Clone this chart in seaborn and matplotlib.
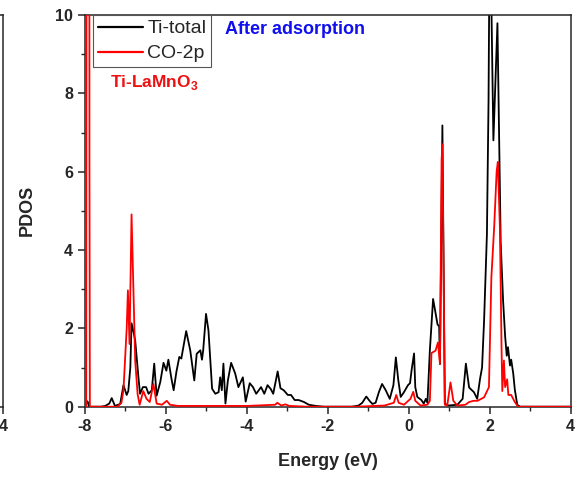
import numpy as np
import pandas as pd
import matplotlib
matplotlib.use("Agg")
import matplotlib.pyplot as plt
import seaborn as sns

# ---------------- data ----------------
ti_energy = [-8.00, -7.98, -7.96, -7.93, -7.90, -7.60, -7.50, -7.40, -7.34, -7.26,
             -7.13, -7.05, -6.97, -6.93, -6.88, -6.85, -6.80, -6.76, -6.68, -6.64,
             -6.57, -6.49, -6.43, -6.35, -6.29, -6.23, -6.14, -6.06, -5.99, -5.94,
             -5.87, -5.81, -5.74, -5.67, -5.62, -5.50, -5.40, -5.30, -5.24, -5.15,
             -5.11, -5.08, -5.01, -4.95, -4.86, -4.78, -4.70, -4.66, -4.62, -4.58,
             -4.53, -4.47, -4.39, -4.29, -4.21, -4.10, -4.03, -3.93, -3.85, -3.77,
             -3.65, -3.57, -3.49, -3.41, -3.35, -3.24, -3.17, -3.09, -2.99, -2.91,
             -2.82, -2.72, -2.59, -2.47, -2.30, -2.10, -1.40, -1.24, -1.15, -1.05,
             -0.97, -0.90, -0.82, -0.74, -0.66, -0.57, -0.47, -0.38, -0.32, -0.26,
             -0.20, -0.12, -0.02, 0.03, 0.07, 0.13, 0.16, 0.21, 0.31, 0.37,
             0.42, 0.46, 0.52, 0.60, 0.65, 0.71, 0.75, 0.77, 0.83, 0.89,
             0.97, 1.20, 1.33, 1.41, 1.49, 1.61, 1.69, 1.76, 1.81, 1.86,
             1.93, 1.97, 1.99, 2.03, 2.09, 2.19, 2.27, 2.33, 2.38, 2.42,
             2.45, 2.50, 2.53, 2.58, 2.62, 2.68, 2.75, 4.00]
ti_pdos = [0.0, 0.0, 0.15, 0.12, 0.0, 0.0, 0.02, 0.08, 0.22, 0.02,
           0.07, 0.55, 0.30, 0.40, 1.00, 2.13, 1.90, 1.69, 0.75, 0.33,
           0.50, 0.50, 0.33, 0.42, 1.10, 0.28, 0.63, 1.12, 0.92, 1.20,
           0.75, 0.42, 0.90, 1.27, 1.23, 1.93, 1.44, 0.67, 1.35, 1.44,
           1.20, 1.44, 2.37, 1.95, 0.46, 0.33, 0.37, 0.75, 0.42, 1.10,
           0.08, 0.67, 1.12, 0.85, 0.50, 0.75, 0.13, 0.60, 0.50, 0.33,
           0.50, 0.33, 0.55, 0.45, 0.33, 0.90, 0.47, 0.42, 0.30, 0.30,
           0.17, 0.17, 0.12, 0.05, 0.02, 0.0, 0.0, 0.03, 0.10, 0.26,
           0.15, 0.07, 0.10, 0.37, 0.58, 0.42, 0.20, 0.55, 1.26, 0.68,
           0.25, 0.37, 0.55, 0.60, 0.94, 1.36, 0.50, 0.25, 0.17, 0.08,
           0.20, 0.10, 1.43, 2.75, 2.45, 2.10, 2.05, 1.09, 7.18, 0.08,
           0.03, 0.05, 0.20, 1.10, 0.49, 0.37, 0.20, 0.71, 1.00, 2.20,
           4.40, 7.80, 11.0, 11.0, 6.80, 9.79, 4.20, 2.70, 1.80, 1.30,
           1.52, 1.05, 1.20, 0.85, 0.43, 0.05, 0.0, 0.0]

co_energy = [-8.00, -7.97, -7.95, -7.90, -7.89, -7.88, -7.20, -7.10, -7.05, -6.97,
             -6.94, -6.90, -6.85, -6.76, -6.70, -6.65, -6.56, -6.48, -6.40, -6.31,
             -6.23, -6.10, -5.98, -5.90, -5.70, -4.00, -3.30, -3.25, -3.15, -3.05,
             -2.95, -2.50, -1.30, -0.60, -0.37, -0.31, -0.25, -0.12, 0.04, 0.11,
             0.16, 0.29, 0.46, 0.52, 0.56, 0.66, 0.72, 0.77, 0.81, 0.83,
             0.89, 0.95, 1.03, 1.10, 1.20, 1.40, 1.49, 1.60, 1.70, 1.86,
             1.98, 2.04, 2.11, 2.17, 2.20, 2.25, 2.29, 2.31, 2.35, 2.38,
             2.43, 2.46, 2.53, 2.62, 2.70, 4.00]
co_pdos = [0.0, 0.0, 30.0, 30.0, 6.3, 0.0, 0.0, 0.10, 0.42, 2.00,
           2.97, 1.60, 4.91, 1.18, 0.32, 0.05, 0.40, 0.20, 0.12, 0.58,
           0.08, 0.05, 0.15, 0.05, 0.02, 0.02, 0.05, 0.10, 0.03, 0.06,
           0.02, 0.0, 0.0, 0.03, 0.10, 0.30, 0.10, 0.05, 0.20, 0.38,
           0.15, 0.03, 0.05, 0.15, 1.37, 1.43, 1.64, 1.09, 6.29, 6.70,
           0.05, 0.03, 0.62, 0.15, 0.03, 0.05, 0.12, 0.15, 0.15, 0.24,
           0.50, 3.30, 4.60, 6.00, 6.25, 4.60, 1.60, 0.40, 1.18, 0.50,
           0.70, 0.30, 0.30, 0.12, 0.0, 0.0]

series_names = ["Ti-total", "CO-2p"]
series_colors = ["#000000", "#ff0000"]
x_ticks = [-8, -6, -4, -2, 0, 2, 4]
y_ticks = [0, 2, 4, 6, 8, 10]

# ---------------- style ----------------
sns.set_style("ticks")
plt.rcParams["font.family"] = ["Liberation Sans", "DejaVu Sans"]
plt.rcParams["mathtext.fontset"] = "custom"
plt.rcParams["mathtext.rm"] = "Liberation Sans"
plt.rcParams["mathtext.bf"] = "Liberation Sans:bold"
plt.rcParams["axes.linewidth"] = 1.1

df = pd.concat([
    pd.DataFrame({"Energy": ti_energy, "PDOS": ti_pdos, "series": series_names[0]}),
    pd.DataFrame({"Energy": co_energy, "PDOS": co_pdos, "series": series_names[1]}),
], ignore_index=True)

W, H = 580, 478
fig = plt.figure(figsize=(W / 100, H / 100), dpi=100)

# cropped neighbouring panel on the left (only its right edge is visible)
ax0 = fig.add_axes([-0.82, 71.3 / H, 0.8255, (463 - 71.3) / H])
ax0.set_xlim(-8, 4)
ax0.set_ylim(0, 10)
ax0.set_xticks([x_ticks[-1]])
ax0.set_yticks([])
ax0.set_xticklabels([str(x_ticks[-1])], fontweight="bold", fontsize=11.5)
ax0.tick_params(direction="out", length=5, width=1.1)

ax = fig.add_axes([85 / W, 71.3 / H, (570.7 - 85) / W, (463 - 71.3) / H])
for name, col, z in zip(series_names, series_colors, [2, 3]):
    sns.lineplot(data=df[df["series"] == name], x="Energy", y="PDOS", ax=ax,
                 color=col, lw=1.3, estimator=None, sort=False, label=name, zorder=z)

ax.set_xlim(-8, 4)
ax.set_ylim(0, 10)
ax.set_xticks(x_ticks)
ax.set_yticks(y_ticks)
ax.set_xticks([-7, -5, -3, -1, 1, 3], minor=True)
ax.set_yticks([1, 3, 5, 7, 9], minor=True)
ax.set_xticklabels([str(t) for t in x_ticks], fontweight="bold", fontsize=11.5)
ax.set_yticklabels([str(t) for t in y_ticks], fontweight="bold", fontsize=11.5)
ax.tick_params(which="major", direction="out", length=5, width=1.1)
ax.tick_params(which="minor", direction="out", length=3, width=1.0)
for s in ["top", "right"]:
    ax.spines[s].set_visible(True)

ax.set_xlabel("Energy (eV)", fontweight="bold", fontsize=13, labelpad=14)
ax.set_ylabel("PDOS", fontweight="bold", fontsize=13, labelpad=14)

leg = ax.legend(loc="upper left", bbox_to_anchor=(0.0165, 1.0), borderaxespad=0,
                frameon=True, fancybox=False, framealpha=1, edgecolor="#555555",
                fontsize=14, handlelength=2.3, handletextpad=0.25,
                labelspacing=0.38, borderpad=0.25)
leg.get_frame().set_linewidth(0.8)
for line in leg.get_lines():
    line.set_linewidth(1.6)

fig.text(225 / W, 1 - 30 / H, "After adsorption", color="#1010ee",
         fontweight="bold", fontsize=13, va="center", ha="left")
fig.text(110 / W, 1 - 82 / H, r"Ti-LaMnO$_{\mathbf{3}}$",
         color="#ee1111", fontweight="bold", fontsize=12.5, va="center", ha="left")

fig.savefig("out.png", dpi=100)
